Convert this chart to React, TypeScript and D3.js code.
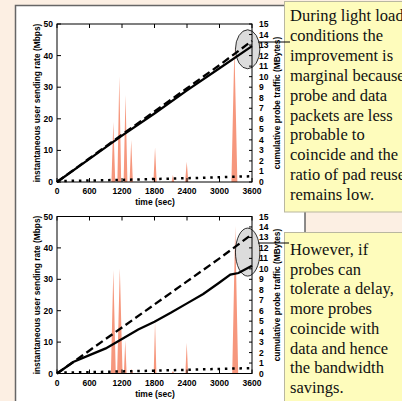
import React from 'react';
import * as d3 from 'd3';

// time axis (sec) and tick labels
const timeTicks = [0, 600, 1200, 1800, 2400, 3000, 3600];
const rateTicks = [0, 10, 20, 30, 40, 50];
const mbTicks = [0, 1, 2, 3, 4, 5, 6, 7, 8, 9, 10, 11, 12, 13, 14, 15];

// instantaneous sending rate spikes (Mbps): centre time, peak, half base width
const topSpikeTime = [1040, 1150, 1265, 1370, 1810, 2140, 2395, 3275];
const topSpikePeak = [19, 33.5, 27.5, 13.3, 11, 2.2, 6.4, 42.8];
const topSpikeHalf = [35, 35, 35, 30, 30, 25, 30, 55];

const botSpikeTime = [1040, 1160, 1260, 1380, 1810, 2140, 2395, 3290];
const botSpikePeak = [33, 33.5, 10.6, 1.5, 16.5, 0.8, 9.8, 47];
const botSpikeHalf = [45, 50, 25, 25, 25, 25, 25, 55];

// cumulative probe traffic (MBytes)
const lineTime = [0, 600, 1200, 1800, 2400, 3000, 3600];
const topSolid = [0, 2.2, 4.4, 6.5, 8.7, 10.8, 12.9];
const topDashed = [0, 2.25, 4.5, 6.7, 8.9, 11.1, 13.4];
const topDotted = [0.08, 0.14, 0.2, 0.28, 0.36, 0.45, 0.55];

const botSolidTime = [0, 300, 600, 900, 1200, 1500, 1800, 2100, 2400, 2700, 3000, 3200, 3350, 3600];
const botSolid = [0, 1.1, 1.75, 2.4, 3.3, 4.2, 4.95, 5.8, 6.7, 7.6, 8.7, 9.45, 9.6, 10.3];
const botDashed = [0, 2.2, 4.4, 6.6, 8.8, 11.0, 13.3];
const botDotted = [0.08, 0.13, 0.2, 0.27, 0.35, 0.44, 0.52];

const topText = ['During light load', 'conditions the', 'improvement is', 'marginal because',
  'probe and data', 'packets are less', 'probable to', 'coincide and the',
  'ratio of pad reuse', 'remains low.'];
const botText = ['However, if', 'probes can', 'tolerate a delay,', 'more probes',
  'coincide with', 'data and hence', 'the bandwidth', 'savings.'];

const sans = '"Liberation Sans", Arial, sans-serif';
const serif = '"Liberation Serif", "Times New Roman", serif';
const salmon = '#f6977d';

const Chart = ({ top, bottom, spikeT, spikeP, spikeH, solidT, solid, dashed, dotted, ellipseMb, ry }) => {
  const x = d3.scaleLinear().domain([0, 3600]).range([57, 252]);
  const yL = d3.scaleLinear().domain([0, 50]).range([bottom, top]);
  const yR = d3.scaleLinear().domain([0, 15]).range([bottom, top]);

  const pts = [[0, 0]];
  spikeT.forEach((t, i) => {
    pts.push([t - spikeH[i], 0], [t, spikeP[i]], [t + spikeH[i], 0]);
  });
  pts.push([3600, 0]);
  const area = d3.area().x(d => x(d[0])).y0(yL(0)).y1(d => yL(d[1]));
  const line = d3.line().x(d => x(d[0])).y(d => yR(d[1]));

  const solidPts = solidT.map((t, i) => [t, solid[i]]);
  const dashedPts = lineTime.map((t, i) => [t, dashed[i]]);
  const dottedPts = lineTime.map((t, i) => [t, dotted[i]]);
  const midY = (top + bottom) / 2;

  return (
    <g>
      <path d={area(pts)} fill={salmon} />
      <ellipse cx={x(3520)} cy={yR(ellipseMb)} rx={12.2} ry={ry}
        fill="#d6d6d6" fillOpacity={0.85} stroke="#000" strokeWidth={0.8} />
      <path d={line(dottedPts)} fill="none" stroke="#000" strokeWidth={2.5} strokeDasharray="2.5,4.8" />
      <path d={line(solidPts)} fill="none" stroke="#000" strokeWidth={2.3} />
      <path d={line(dashedPts)} fill="none" stroke="#000" strokeWidth={2.3} strokeDasharray="8,4" />
      <rect x={x(0)} y={top} width={x(3600) - x(0)} height={bottom - top} fill="none" stroke="#000" strokeWidth={1} />
      {timeTicks.map(t => (
        <g key={'t' + t}>
          <line x1={x(t)} x2={x(t)} y1={bottom} y2={bottom - 4} stroke="#000" />
          <line x1={x(t)} x2={x(t)} y1={top} y2={top + 4} stroke="#000" />
          <text x={x(t)} y={bottom + 12} textAnchor="middle" fontSize={8.5} fontWeight="bold" fontFamily={sans}>{t}</text>
        </g>
      ))}
      {rateTicks.map(v => (
        <g key={'r' + v}>
          <line x1={x(0)} x2={x(0) + 4} y1={yL(v)} y2={yL(v)} stroke="#000" />
          <text x={53} y={yL(v) + 3} textAnchor="end" fontSize={8.5} fontWeight="bold" fontFamily={sans}>{v}</text>
        </g>
      ))}
      {mbTicks.map(v => (
        <g key={'m' + v}>
          <line x1={x(3600)} x2={x(3600) - 3} y1={yR(v)} y2={yR(v)} stroke="#000" />
          <text x={259} y={yR(v) + 3} fontSize={8.5} fontWeight="bold" fontFamily={sans}>{v}</text>
        </g>
      ))}
      <text x={155} y={bottom + 23} textAnchor="middle" fontSize={8.5} fontWeight="bold" fontFamily={sans}>time (sec)</text>
      <text transform={`translate(40,${midY}) rotate(-90)`} textAnchor="middle" fontSize={8.4} fontWeight="bold" fontFamily={sans}>
        instantaneous user sending rate (Mbps)
      </text>
      <text transform={`translate(280,${midY}) rotate(-90)`} textAnchor="middle" fontSize={8.4} fontWeight="bold" fontFamily={sans}>
        cumulative probe traffic (MBytes)
      </text>
    </g>
  );
};

const App = () => {
  return (
    <div style={{ position: 'absolute', left: 0, top: 0 }}>
      <svg width={402} height={401} style={{ display: 'block' }}>
        <rect x={0} y={0} width={402} height={401} fill="#fcefe3" />
        <rect x={15.5} y={5.5} width={289.5} height={400} fill="#fff" stroke="#666" strokeWidth={1.5} />
        <Chart top={24} bottom={182} spikeT={topSpikeTime} spikeP={topSpikePeak} spikeH={topSpikeHalf}
          solidT={lineTime} solid={topSolid} dashed={topDashed} dotted={topDotted} ellipseMb={12.6} ry={19.5} />
        <Chart top={216.5} bottom={373.5} spikeT={botSpikeTime} spikeP={botSpikePeak} spikeH={botSpikeHalf}
          solidT={botSolidTime} solid={botSolid} dashed={botDashed} dotted={botDotted} ellipseMb={11.6} ry={24} />
        <rect x={284.5} y={1.5} width={130} height={210.5} fill="#fefcbc" stroke="#b9b7a0" strokeWidth={1} />
        <rect x={284.5} y={232.5} width={130} height={180} fill="#fefcbc" stroke="#b9b7a0" strokeWidth={1} />
        <line x1={258} x2={290} y1={42} y2={42} stroke="#000" strokeWidth={1} />
        <line x1={258} x2={289} y1={243} y2={243} stroke="#000" strokeWidth={1} />
        {topText.map((s, i) => (
          <text key={s} x={290} y={21 + i * 19.9} fontSize={16.5} fontFamily={serif} fill="#111">{s}</text>
        ))}
        {botText.map((s, i) => (
          <text key={s} x={290} y={255 + i * 19.7} fontSize={16.5} fontFamily={serif} fill="#111">{s}</text>
        ))}
      </svg>
    </div>
  );
};

export default App;
